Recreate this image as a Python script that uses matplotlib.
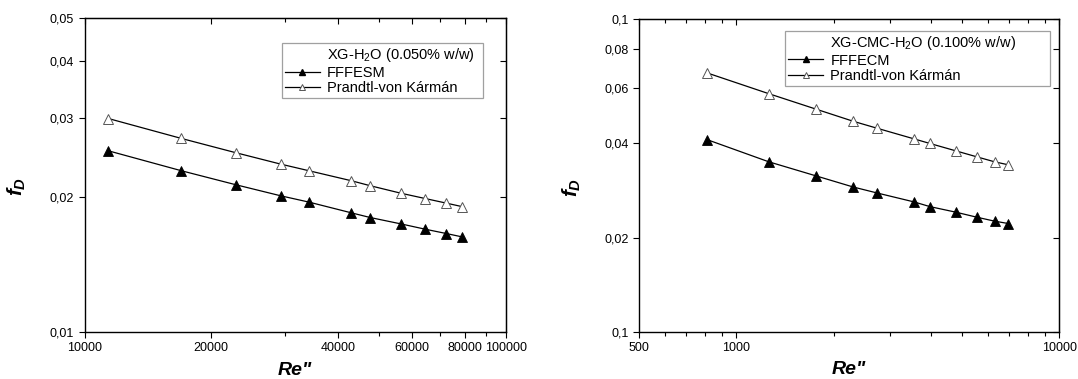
import matplotlib
matplotlib.use("Agg")
import matplotlib.pyplot as plt
from matplotlib.ticker import FixedLocator, FixedFormatter, NullFormatter
from matplotlib.lines import Line2D

plt.rcParams['font.family'] = ['Liberation Sans', 'DejaVu Sans']
plt.rcParams['mathtext.fontset'] = 'custom'
plt.rcParams['mathtext.rm'] = 'Liberation Sans'
plt.rcParams['mathtext.it'] = 'Liberation Sans:italic:bold'
plt.rcParams['mathtext.bf'] = 'Liberation Sans:bold'

# ---- Left panel data: XG-H2O (0.050% w/w) ----
re_left = [11390, 16990, 22880, 29240, 34130, 43030, 47740, 56370, 64430, 72300, 78740]
f_fffesm = [0.02530, 0.02284, 0.02126, 0.02009, 0.01945, 0.01841, 0.01797, 0.01740, 0.01693, 0.01656, 0.01628]
f_pvk_left = [0.02985, 0.02695, 0.02505, 0.02363, 0.02284, 0.02170, 0.02115, 0.02036, 0.01981, 0.01935, 0.01901]

# ---- Right panel data: XG-CMC-H2O (0.100% w/w) ----
re_right = [810, 1261, 1760, 2302, 2730, 3553, 3976, 4785, 5551, 6304, 6950]
f_fffecm = [0.04118, 0.03494, 0.03153, 0.02902, 0.02777, 0.02600, 0.02512, 0.02411, 0.02324, 0.02257, 0.02218]
f_pvk_right = [0.06730, 0.05770, 0.05155, 0.04709, 0.04473, 0.04136, 0.03999, 0.03787, 0.03625, 0.03494, 0.03418]

# ---- Tick definitions ----
left_xmajor = [10000, 20000, 40000, 60000, 80000, 100000]
left_xlabels = ["10000", "20000", "40000", "60000", "80000", "100000"]
left_xminor = [30000, 50000, 70000, 90000]
left_ymajor = [0.01, 0.02, 0.03, 0.04, 0.05]
left_ylabels = ["0,01", "0,02", "0,03", "0,04", "0,05"]

right_xmajor = [500, 1000, 10000]
right_xlabels = ["500", "1000", "10000"]
right_xminor = [600, 700, 800, 900, 2000, 3000, 4000, 5000, 6000, 7000, 8000, 9000]
right_ymajor = [0.01, 0.02, 0.04, 0.06, 0.08, 0.1]
right_ylabels = ["0,1", "0,02", "0,04", "0,06", "0,08", "0,1"]

fig = plt.figure(figsize=(10.78, 3.79), dpi=100)
axL = fig.add_axes([0.0784, 0.124, 0.3907, 0.829])
axR = fig.add_axes([0.5928, 0.1248, 0.3899, 0.825])

def draw(ax, x, y1, y2, lab1, title, xlim, ylim, xmaj, xlab, xmin, ymaj, ylab, leg_anchor):
    ax.set_xscale('log')
    ax.set_yscale('log')
    ax.plot(x, y1, '-', color='black', lw=0.9, marker='^', ms=7,
            mfc='black', mec='black', mew=0.6)
    ax.plot(x, y2, '-', color='black', lw=0.9, marker='^', ms=7,
            mfc='white', mec='#555555', mew=0.7)
    ax.set_xlim(*xlim)
    ax.set_ylim(*ylim)
    ax.xaxis.set_major_locator(FixedLocator(xmaj))
    ax.xaxis.set_major_formatter(FixedFormatter(xlab))
    ax.xaxis.set_minor_locator(FixedLocator(xmin))
    ax.xaxis.set_minor_formatter(NullFormatter())
    ax.yaxis.set_major_locator(FixedLocator(ymaj))
    ax.yaxis.set_major_formatter(FixedFormatter(ylab))
    ax.yaxis.set_minor_locator(FixedLocator([]))
    ax.tick_params(axis='both', which='major', direction='out', length=4.5, width=0.8,
                   labelsize=9, pad=3)
    ax.tick_params(axis='both', which='minor', direction='out', length=3, width=0.8)
    for sp in ax.spines.values():
        sp.set_linewidth(1.0)
    # mirrored inward ticks on top/right
    axt = ax.secondary_xaxis('top')
    axt.xaxis.set_major_locator(FixedLocator(xmaj))
    axt.xaxis.set_minor_locator(FixedLocator(xmin))
    axt.xaxis.set_major_formatter(NullFormatter())
    axt.xaxis.set_minor_formatter(NullFormatter())
    axt.tick_params(axis='x', which='major', direction='in', length=4.5, width=0.8)
    axt.tick_params(axis='x', which='minor', direction='in', length=3, width=0.8)
    axr = ax.secondary_yaxis('right')
    axr.yaxis.set_major_locator(FixedLocator(ymaj))
    axr.yaxis.set_minor_locator(FixedLocator([]))
    axr.yaxis.set_major_formatter(NullFormatter())
    axr.tick_params(axis='y', which='major', direction='in', length=4.5, width=0.8)

    ax.set_xlabel('Re"', fontsize=14, fontweight='bold', fontstyle='italic')
    ax.xaxis.set_label_coords(0.5, -0.095)
    ax.set_ylabel(r'$f_D$', fontsize=15)
    ax.yaxis.set_label_coords(-0.134, 0.462)

    handles = [Line2D([], [], color='none'),
               Line2D([], [], color='black', lw=0.9, marker='^', ms=5, mfc='black', mec='black'),
               Line2D([], [], color='black', lw=0.9, marker='^', ms=5, mfc='white', mec='#555555', mew=0.7)]
    labels = [title, lab1, 'Prandtl-von Kármán']
    leg = ax.legend(handles, labels, loc='upper left', bbox_to_anchor=leg_anchor,
                    mode='expand', borderaxespad=0, fancybox=False, frameon=True,
                    edgecolor='#888888', fontsize=10.5, handlelength=2.4,
                    handletextpad=0.5, labelspacing=0.1, borderpad=0.22)
    leg.get_frame().set_linewidth(0.9)

draw(axL, re_left, f_fffesm, f_pvk_left, 'FFFESM', r'XG-H$_2$O (0.050% w/w)',
     (10000, 100000), (0.01, 0.05), left_xmajor, left_xlabels, left_xminor,
     left_ymajor, left_ylabels, (0.468, 0.820, 0.479, 0.1))
draw(axR, re_right, f_fffecm, f_pvk_right, 'FFFECM', r'XG-CMC-H$_2$O (0.100% w/w)',
     (500, 10000), (0.01, 0.1), right_xmajor, right_xlabels, right_xminor,
     right_ymajor, right_ylabels, (0.347, 0.862, 0.630, 0.1))

fig.savefig('out.png', dpi=100)
